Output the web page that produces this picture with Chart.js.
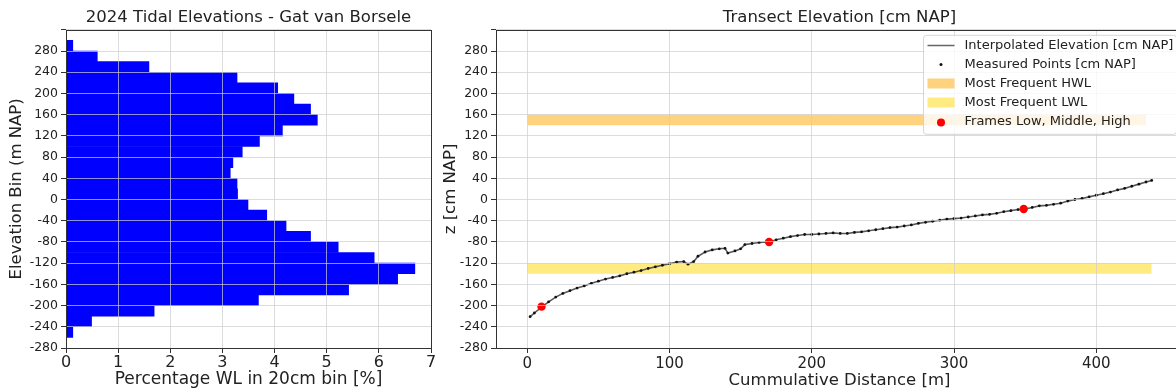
<!DOCTYPE html>
<html>
<head>
<meta charset="utf-8">
<script src="https://cdn.jsdelivr.net/npm/chart.js@4/dist/chart.umd.min.js"></script>
<style>
html, body { margin: 0; padding: 0; background: #fff; overflow: hidden; width: 1176px; height: 392px; }
#left { position: absolute; left: 0; top: 0; width: 440px; height: 392px; }
#right { position: absolute; left: 440px; top: 0; width: 750px; height: 392px; }
</style>
</head>
<body>
<div id="left"><canvas id="histChart"></canvas></div>
<div id="right"><canvas id="transectChart"></canvas></div>
<script>
// Histogram of water levels (20 cm bins, centre of each bin)
const binCenters = [290, 270, 250, 230, 210, 190, 170, 150, 130, 110, 90, 70, 50, 30, 10,
    -10, -30, -50, -70, -90, -110, -130, -150, -170, -190, -210, -230, -250];
const binPct = [0.13, 0.60, 1.59, 3.28, 4.06, 4.37, 4.69, 4.82, 4.15, 3.71, 3.38, 3.20, 3.15, 3.28, 3.29,
    3.49, 3.85, 4.22, 4.69, 5.22, 5.91, 6.69, 6.36, 5.42, 3.69, 1.69, 0.49, 0.13];

// Transect profile
const distance = [2, 5, 10, 15, 20, 25, 30, 35, 40, 45, 50, 55, 60, 65, 70, 75, 80, 85, 90, 95, 100,
    105, 110, 113, 117, 120, 125, 130, 135, 139, 141, 146, 150, 153, 158, 163, 170, 175, 180, 185,
    190, 195, 200, 205, 210, 215, 220, 225, 230, 235, 240, 245, 250, 255, 260, 265, 270, 275, 280,
    285, 290, 295, 300, 305, 310, 315, 320, 325, 330, 335, 340, 345, 350, 355, 360, 365, 370, 375,
    380, 385, 390, 395, 400, 405, 410, 415, 420, 425, 430, 435, 439];
const elevation = [-221, -214, -203, -193, -184, -177, -172, -167, -163, -158, -154, -150, -147, -144,
    -140, -137, -134, -130, -127, -124, -121, -118, -117, -122, -117, -107, -99, -95, -93, -92, -101,
    -97, -93, -85, -83, -81, -80, -76, -73, -70, -68, -66, -66, -65, -64, -63, -64, -64, -62, -61,
    -59, -57, -55, -53, -52, -50, -48, -45, -43, -41, -39, -37, -36, -35, -33, -31, -29, -28, -26,
    -23, -21, -19, -18, -15, -12, -11, -9, -7, -3, 0, 2, 5, 8, 11, 14, 18, 21, 25, 29, 33, 36];
const frameDist = [10, 170, 349];
const frameElev = [-202, -80, -18];
const hwlBand = [140, 160];
const lwlBand = [-140, -120];
const hwlX = [0, 435];
const lwlX = [0, 439];

// Tick labels
const elevTickLabels = [-280, -240, -200, -160, -120, -80, -40, 0, 40, 80, 120, 160, 200, 240, 280];
const distTicks = [0, 100, 200, 300, 400];

const legendLabels = ['Interpolated Elevation [cm NAP]', 'Measured Points [cm NAP]',
    'Most Frequent HWL', 'Most Frequent LWL', 'Frames Low, Middle, High'];

Chart.defaults.font.family = '"DejaVu Sans", sans-serif';
Chart.defaults.color = '#222';
Chart.defaults.animation = false;

const gridColor = 'rgba(205,205,205,0.7)';

// Matplotlib-like frame round the plot area
const framePlugin = {
    id: 'frame',
    afterDraw(chart) {
        const { ctx, chartArea: a } = chart;
        ctx.save();
        ctx.strokeStyle = '#333';
        ctx.lineWidth = 1;
        ctx.strokeRect(Math.round(a.left) + 0.5, Math.round(a.top) + 0.5,
            Math.round(a.right - a.left), Math.round(a.bottom - a.top));
        ctx.restore();
    }
};

const elevAxis = (titleText, titlePad) => ({
    type: 'linear',
    min: -280,
    max: 320,
    offset: false,
    afterFit: s => { s.width = titlePad.width; },
    ticks: {
        stepSize: 20,
        font: { size: 12.5 },
        padding: 3,
        callback: v => elevTickLabels.includes(v) ? v : ''
    },
    grid: { z: 1, offset: false, color: gridColor, lineWidth: 1, tickLength: 5, tickColor: '#333' },
    border: { display: false },
    title: { display: true, text: titleText, font: { size: 16.5 }, padding: { top: titlePad.top, bottom: 0 } }
});

new Chart(document.getElementById('histChart'), {
    type: 'bar',
    data: {
        datasets: [{
            data: binCenters.map((c, i) => ({ x: binPct[i], y: c })),
            backgroundColor: '#0000ff',
            borderWidth: 0,
            barPercentage: 1,
            categoryPercentage: 1
        }]
    },
    options: {
        indexAxis: 'y',
        responsive: true,
        maintainAspectRatio: false,
        layout: { padding: { left: 0, right: 9, top: 0, bottom: 0 } },
        plugins: {
            legend: { display: false },
            tooltip: { enabled: false },
            title: {
                display: true,
                text: '2024 Tidal Elevations - Gat van Borsele',
                fullSize: false,
                font: { size: 16.5, weight: 'normal' },
                color: '#222',
                padding: { top: 8, bottom: 2 }
            }
        },
        scales: {
            x: {
                type: 'linear',
                min: 0,
                max: 7,
                afterFit: s => { s.height = 44; },
                ticks: { stepSize: 1, font: { size: 16 }, padding: 0 },
                grid: { z: 1, color: gridColor, lineWidth: 1, tickLength: 5, tickColor: '#333' },
                border: { display: false },
                title: { display: true, text: 'Percentage WL in 20cm bin [%]', font: { size: 17 }, padding: { top: 0, bottom: 2 } }
            },
            y: elevAxis('Elevation Bin (m NAP)', { width: 66, top: 7 })
        }
    },
    plugins: [framePlugin]
});

// Legend drawn inside the plot, upper right
const insideLegend = {
    id: 'insideLegend',
    afterDraw(chart) {
        const { ctx, chartArea } = chart;
        const w = 253, h = 99;
        const x = chartArea.right - 7 - w, y = chartArea.top + 5;
        ctx.save();
        ctx.beginPath();
        ctx.roundRect(x + 0.5, y + 0.5, w, h, 3);
        ctx.fillStyle = 'rgba(255,255,255,0.8)';
        ctx.fill();
        ctx.strokeStyle = 'rgba(204,204,204,0.8)';
        ctx.lineWidth = 1;
        ctx.stroke();
        ctx.font = '13px "DejaVu Sans"';
        ctx.textBaseline = 'middle';
        legendLabels.forEach((label, i) => {
            const cy = y + 10.7 + i * 19;
            const hx = x + 4.5;
            if (i === 0) {
                ctx.strokeStyle = '#666';
                ctx.lineWidth = 1.5;
                ctx.beginPath();
                ctx.moveTo(hx, cy);
                ctx.lineTo(hx + 27, cy);
                ctx.stroke();
            } else if (i === 1) {
                ctx.fillStyle = '#111';
                ctx.beginPath();
                ctx.arc(hx + 13.5, cy, 1.5, 0, Math.PI * 2);
                ctx.fill();
            } else if (i === 2 || i === 3) {
                ctx.fillStyle = i === 2 ? 'rgba(255,165,0,0.5)' : 'rgba(255,215,0,0.5)';
                ctx.fillRect(hx, cy - 5, 27, 10);
            } else {
                ctx.fillStyle = '#ff0000';
                ctx.beginPath();
                ctx.arc(hx + 13.5, cy + 1, 4, 0, Math.PI * 2);
                ctx.fill();
            }
            ctx.fillStyle = '#222';
            ctx.fillText(label, x + 41.5, cy);
        });
        ctx.restore();
    }
};

const bandEdge = (xs, yv) => [{ x: xs[0], y: yv }, { x: xs[1], y: yv }];

new Chart(document.getElementById('transectChart'), {
    type: 'scatter',
    data: {
        datasets: [
            {
                label: 'Most Frequent HWL',
                data: bandEdge(hwlX, hwlBand[1]),
                showLine: true, fill: '+1', borderWidth: 0, pointRadius: 0,
                backgroundColor: 'rgba(255,165,0,0.5)', order: 6
            },
            {
                data: bandEdge(hwlX, hwlBand[0]),
                showLine: true, borderWidth: 0, pointRadius: 0, order: 6
            },
            {
                label: 'Most Frequent LWL',
                data: bandEdge(lwlX, lwlBand[1]),
                showLine: true, fill: '+1', borderWidth: 0, pointRadius: 0,
                backgroundColor: 'rgba(255,215,0,0.5)', order: 6
            },
            {
                data: bandEdge(lwlX, lwlBand[0]),
                showLine: true, borderWidth: 0, pointRadius: 0, order: 6
            },
            {
                label: 'Interpolated Elevation [cm NAP]',
                data: distance.map((d, i) => ({ x: d, y: elevation[i] })),
                showLine: true, borderColor: '#5a5a5a', borderWidth: 1.6, pointRadius: 0, order: 3
            },
            {
                label: 'Measured Points [cm NAP]',
                data: distance.map((d, i) => ({ x: d, y: elevation[i] })),
                pointRadius: 1.4, pointBackgroundColor: '#111', pointBorderWidth: 0, order: 2
            },
            {
                label: 'Frames Low, Middle, High',
                data: frameDist.map((d, i) => ({ x: d, y: frameElev[i] })),
                pointRadius: 4.2, pointBackgroundColor: '#ff0000', pointBorderWidth: 0, order: 1
            }
        ]
    },
    options: {
        responsive: true,
        maintainAspectRatio: false,
        layout: { padding: { left: 0, right: 7, top: 0, bottom: 0 } },
        plugins: {
            legend: { display: false },
            tooltip: { enabled: false },
            title: {
                display: true,
                text: 'Transect Elevation [cm NAP]',
                fullSize: false,
                font: { size: 16.5, weight: 'normal' },
                color: '#222',
                padding: { top: 8, bottom: 2 }
            }
        },
        scales: {
            x: {
                type: 'linear',
                min: -22,
                max: 461,
                afterFit: s => { s.height = 44; },
                afterBuildTicks: s => { s.ticks = distTicks.map(v => ({ value: v })); },
                ticks: { font: { size: 15 }, padding: 2 },
                grid: { z: 1, color: gridColor, lineWidth: 1, tickLength: 5, tickColor: '#333' },
                border: { display: false },
                title: { display: true, text: 'Cummulative Distance [m]', font: { size: 16.5 }, padding: { top: 0, bottom: 1.5 } }
            },
            y: elevAxis('z [cm NAP]', { width: 56, top: 0.5 })
        }
    },
    plugins: [framePlugin, insideLegend]
});
</script>
</body>
</html>
